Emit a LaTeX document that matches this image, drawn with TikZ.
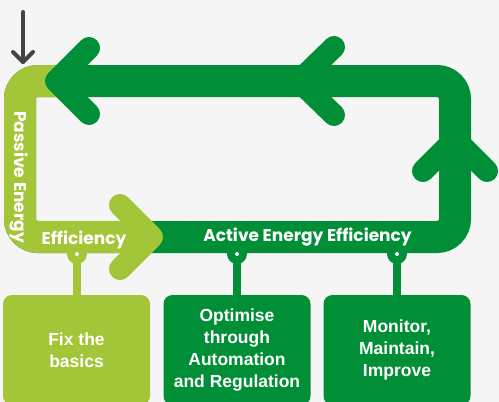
\documentclass[tikz,border=0pt]{standalone}
\usepackage{fontspec}
\newfontfamily\boxfont{Liberation Sans}
\newfontfamily\bandfont{Poppins}
\definecolor{dkg}{RGB}{0,143,54}
\definecolor{ltg}{RGB}{163,197,56}
\definecolor{bgc}{RGB}{245,245,245}
\definecolor{gry}{RGB}{68,68,68}
\begin{document}
\begin{tikzpicture}[x=1pt,y=-1pt,
 band/.style={line width=32pt, rounded corners=18pt},
 chev/.style={line width=22pt, line cap=round, line join=round},
 boxnode/.style={rounded corners=9pt, minimum width=147pt, minimum height=110pt, inner sep=0pt, text=white, font=\boxfont\bfseries\fontsize{17.5}{22}\selectfont, align=center},
 bandlabel/.style={text=white, font=\bandfont\bfseries\fontsize{17}{18}\selectfont, inner sep=0pt},
 bulb/.style={circle, minimum size=20pt, inner sep=0pt},
]
\useasboundingbox (0,0) rectangle (499,402);
\clip (0,0) rectangle (499,402);
\fill[bgc] (0,0) rectangle (499,402);
% loop
\draw[dkg, band] (60,81) -- (20,81) -- (20,237) -- (455,237) -- (455,81) -- cycle;
\draw[ltg, band] (57,81) -- (20,81) -- (20,237) -- (152,237);
% chevrons
\draw[ltg, chev] (120,205) -- (152,237) -- (120,269);
\draw[dkg, chev] (89,48) -- (56,81) -- (89,114);
\draw[dkg, chev] (334,47) -- (299,81) -- (334,115);
\draw[dkg, chev] (423,171) -- (455,139) -- (487,171);
% start arrow
\coordinate (st0) at (23,12);
\coordinate (st1) at (23,62);
\coordinate (hl) at (13,52);
\coordinate (hr) at (33,52);
\draw[gry, line width=4pt, line cap=round, line join=round] (st0) -- (st1);
\draw[gry, line width=4pt, line cap=round, line join=round] (hl) -- (st1) -- (hr);
% boxes
\node[boxnode, fill=ltg] (fix) at (76.5,350) {Fix the\\basics};
\node[boxnode, fill=dkg] (opt) at (237,350) {Optimise\\through\\Automation\\and Regulation};
\node[boxnode, fill=dkg] (mon) at (397,350) {Monitor,\\Maintain,\\Improve};
% stems
\node[bulb, fill=ltg] (b1) at (77,254) {};
\node[bulb, fill=dkg] (b2) at (237,254) {};
\node[bulb, fill=dkg] (b3) at (397,254) {};
\draw[ltg, line width=8pt] (b1.center) -- (b1.center |- fix.north);
\draw[dkg, line width=8pt] (b2.center) -- (opt.north);
\draw[dkg, line width=8pt] (b3.center) -- (mon.north);
\fill[white] (b1.center) circle (2);
\fill[white] (b2.center) circle (2);
\fill[white] (b3.center) circle (2);
% labels
\node[bandlabel] (eff) at (84,240) {Efficiency};
\node[bandlabel] (act) at (307.5,237) {Active Energy Efficiency};
\node[bandlabel, rotate=-90, anchor=west] (pas) at (19,111) {Passive Energy};
\end{tikzpicture}
\end{document}
